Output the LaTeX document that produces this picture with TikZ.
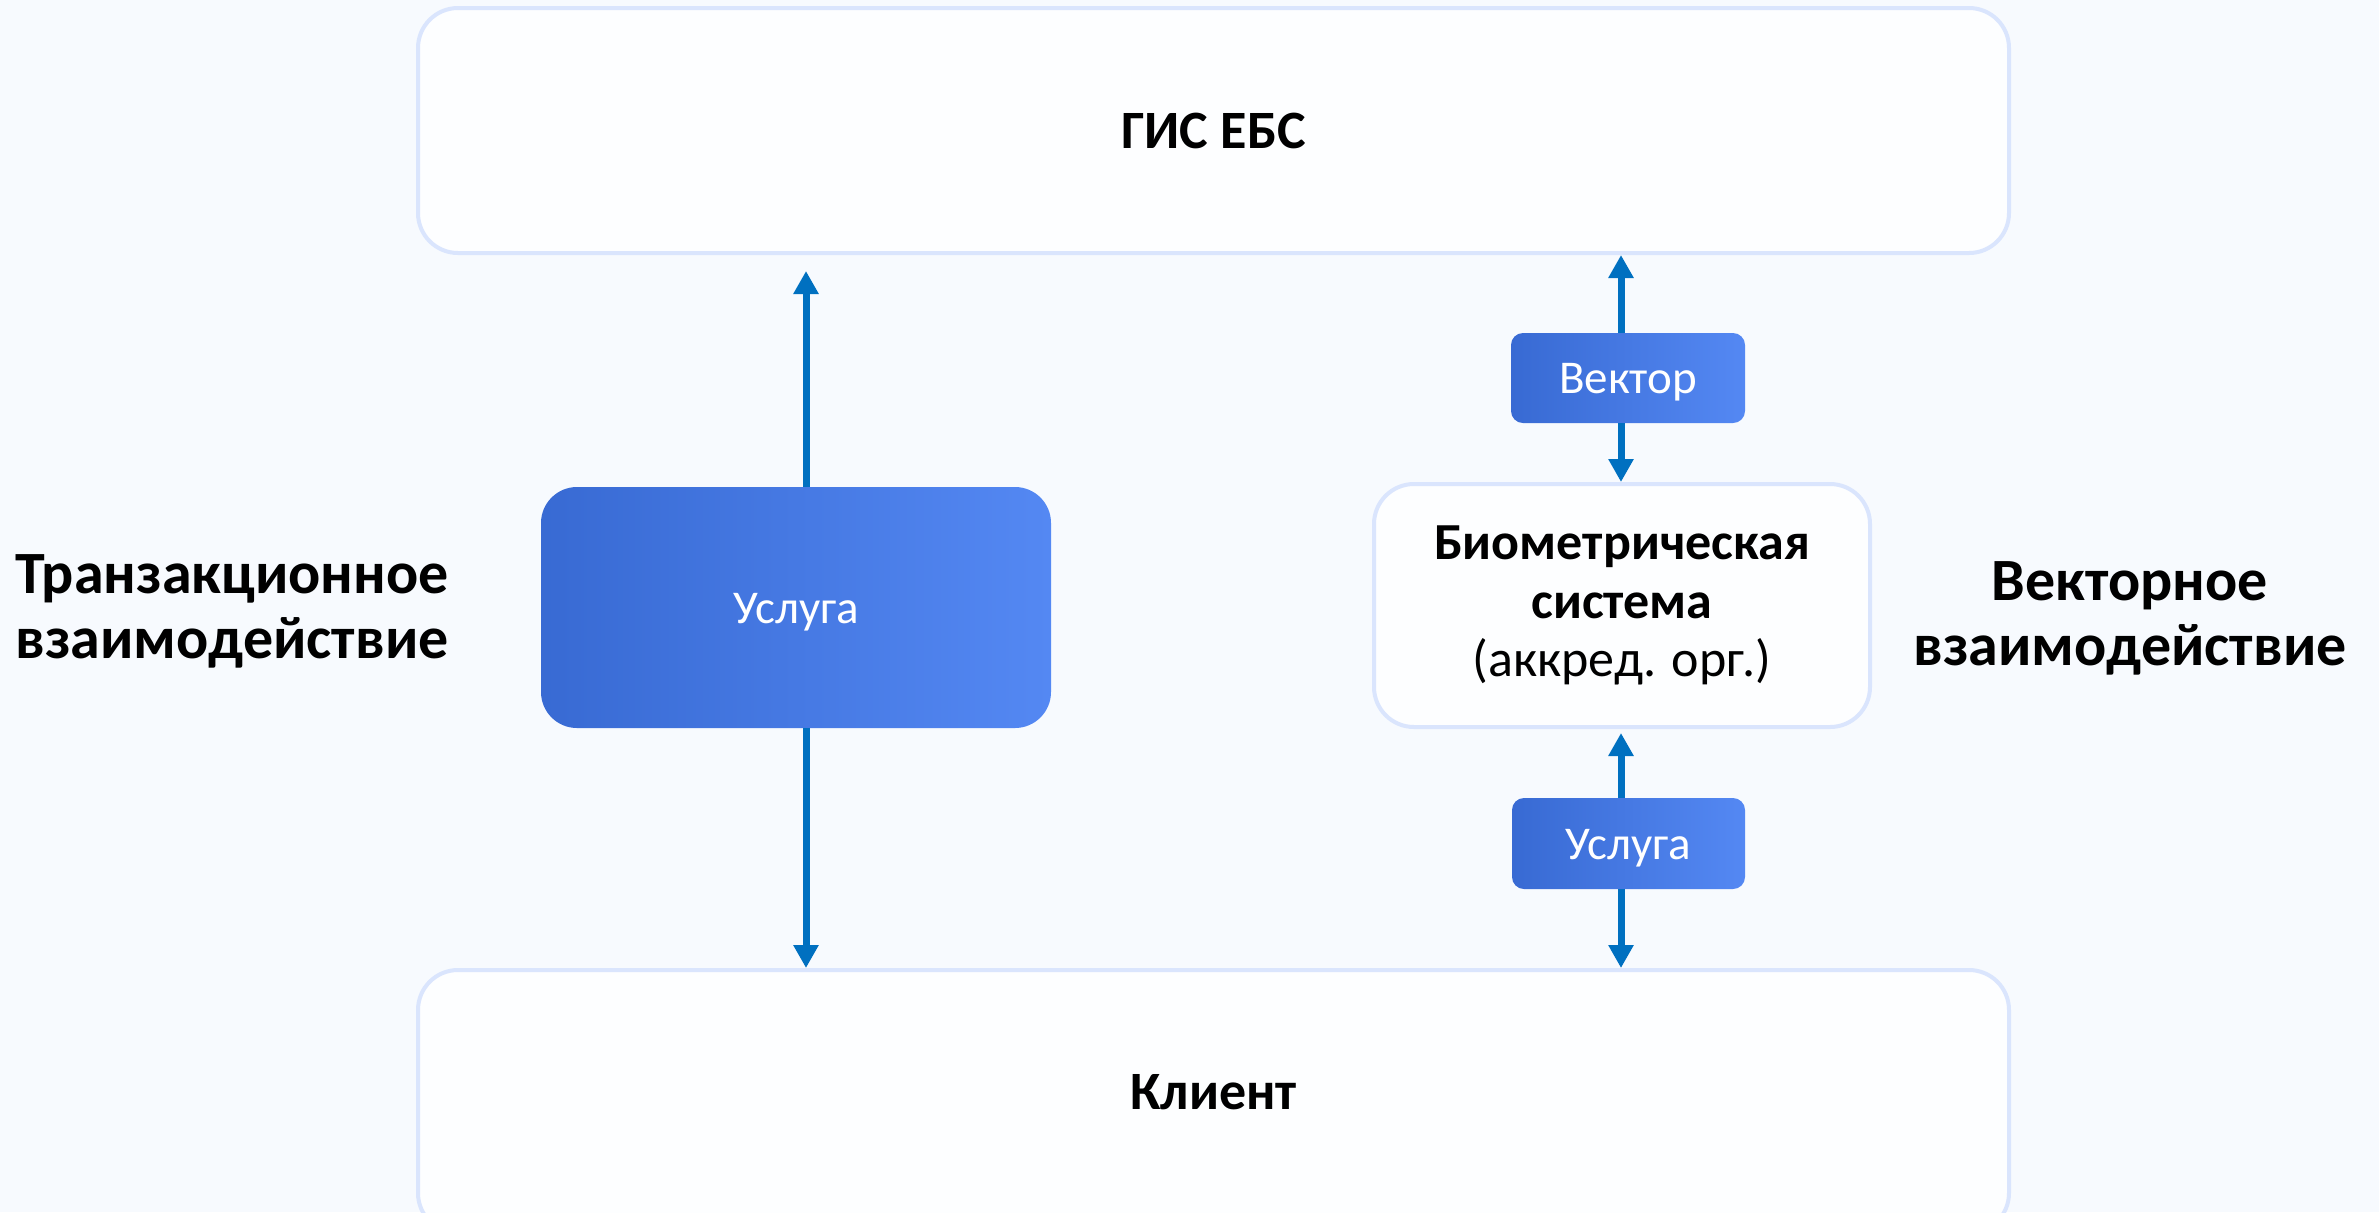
\documentclass[tikz,border=0pt]{standalone}
\usepackage{fontspec}
\setmainfont{Carlito}
\usetikzlibrary{arrows.meta}
\definecolor{bg}{HTML}{F7FAFE}
\definecolor{boxfill}{HTML}{FDFEFF}
\definecolor{boxline}{HTML}{DAE5FD}
\definecolor{arrowblue}{HTML}{0070C0}
\definecolor{blueL}{HTML}{386AD3}
\definecolor{blueR}{HTML}{5488F3}
\newcommand{\btxt}[1]{\raisebox{-7.8pt}[0pt][0pt]{#1}}
\begin{document}
\begin{tikzpicture}[x=0.5pt,y=-0.5pt,
  lightbox/.style={draw=boxline, line width=2pt, fill=boxfill, rounded corners=20pt, inner sep=0pt, text=black},
  bluebox/.style={left color=blueL, right color=blueR, draw=none, text=white, inner sep=0pt},
  conn/.style={draw=arrowblue, line width=3.5pt, -{Triangle[width=12pt,length=11.5pt]}},
  bigtitle/.style={font=\bfseries\fontsize{27}{32}\selectfont},
  sidelabel/.style={align=center, font=\bfseries\fontsize{30}{32.5}\selectfont, text=black},
  bluetext/.style={font=\fontsize{23.5}{27}\selectfont},
]
\fill[bg] (0,0) rectangle (2379,1212);
\useasboundingbox (0,0) rectangle (2379,1212);

% main boxes
\node[lightbox, minimum width=795.5pt, minimum height=122.5pt, bigtitle] (gis) at (1213.5,130.5) {ГИС ЕБС};
\node[lightbox, minimum width=795.5pt, minimum height=131.5pt] (klient) at (1213.5,1101.5) {};
\node[bigtitle] (klienttext) at (1213.5,1092) {Клиент};

\node[bluebox, rounded corners=18pt, minimum width=255pt, minimum height=120.5pt, bluetext] (usl) at (796,607.5) {\btxt{Услуга}};

\node[lightbox, minimum width=248pt, minimum height=121.5pt, align=center, font=\fontsize{26}{29.2}\selectfont] (bio) at (1622,605.5)
  {\textbf{Биометрическая}\\\textbf{система}\\(аккред. орг.)};

\node[bluebox, rounded corners=6pt, minimum width=117pt, minimum height=45pt, bluetext] (vek) at (1628,378) {\btxt{Вектор}};
\node[bluebox, rounded corners=6pt, minimum width=116.5pt, minimum height=45.5pt, bluetext] (usl2) at (1628.5,843.5) {\btxt{Услуга}};

% side labels
\node[sidelabel] (trans) at (232,611) {Транзакционное\\взаимодействие};
\node[sidelabel] (vect) at (2130,618) {Векторное\\взаимодействие};

% axes for arrows
\coordinate (lx) at (806,0);
\coordinate (rx) at (1621,0);

% left connectors
\draw[conn, shorten >=8pt] (usl.north -| lx) -- (gis.south -| lx);
\draw[conn] (usl.south -| lx) -- (klient.north -| lx);

% right connectors
\draw[conn] (vek.north -| rx) -- (gis.south -| rx);
\draw[conn] (vek.south -| rx) -- (bio.north -| rx);
\draw[conn, shorten >=2pt] (usl2.north -| rx) -- (bio.south -| rx);
\draw[conn] (usl2.south -| rx) -- (klient.north -| rx);
\end{tikzpicture}
\end{document}
